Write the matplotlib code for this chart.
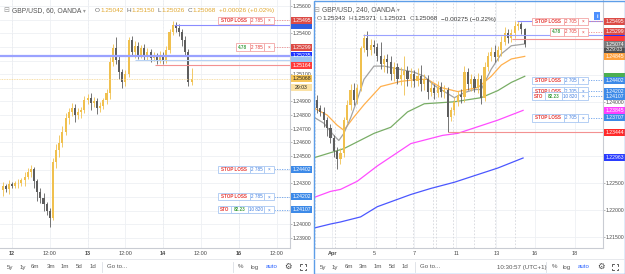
import matplotlib
matplotlib.use("Agg")
import matplotlib.pyplot as plt
import matplotlib.transforms as mtransforms
from matplotlib.patches import Rectangle
from matplotlib.lines import Line2D

plt.rcParams["font.family"] = ["Liberation Sans", "DejaVu Sans"]

W, H = 625, 274
PIP = 0.0001
UP_COL = "#f0c04e"
DN_COL = "#5e5e5e"

# ---------------- left chart: GBP/USD, 60 (hour bars, bar 0 = day "12" 00:00) ----------------
left_first_bar = -4
left_first_open = 1.24233
left_close = [
    1.24248, 1.24277, 1.24255, 1.24292, 1.24284, 1.24299, 1.24299, 1.24321, 1.24350, 1.24380,
    1.24402, 1.24314, 1.24233, 1.24196, 1.24145, 1.24100, 1.24049, 1.24453, 1.24541, 1.24593,
    1.24674, 1.24777, 1.24821, 1.24850, 1.24799, 1.24821, 1.24836, 1.24909, 1.24924, 1.24887,
    1.24902, 1.24850, 1.24865, 1.24909, 1.24960, 1.25188, 1.25291, 1.25203, 1.25115, 1.25041,
    1.25100, 1.25350, 1.25262, 1.25306, 1.25240, 1.25291, 1.25232, 1.25262, 1.25218, 1.25232,
    1.25203, 1.25240, 1.25203, 1.25276, 1.25409, 1.25460, 1.25438, 1.25409, 1.25350, 1.25262,
    1.25042, 1.25068,
]
# wick lengths in pips above / below the body
left_up = [2, 3, 2, 3, 2, 2, 3, 2, 3, 3,
           3, 2, 2, 3, 3, 2, 2, 3, 5, 6,
           5, 4, 3, 4, 3, 3, 2, 3, 3, 4,
           3, 2, 3, 2, 3, 4, 3, 8, 3, 2,
           3, 2, 3, 4, 3, 2, 3, 3, 2, 3,
           2, 3, 2, 3, 2, 3, 2, 3, 2, 3,
           2, 8]
left_dn = [3, 4, 2, 3, 2, 2, 3, 2, 4, 2,
           3, 5, 6, 4, 5, 3, 7, 2, 4, 5,
           3, 2, 4, 3, 5, 3, 4, 2, 3, 5,
           3, 4, 3, 2, 3, 4, 3, 3, 5, 4,
           3, 2, 3, 4, 3, 2, 3, 3, 3, 2,
           3, 2, 3, 2, 2, 2, 3, 3, 4, 3,
           3, 2]
left_ticks = [0, 12, 24, 36, 48, 60, 72, 84]
left_tick_labels = ["12", "12:00", "13", "12:00", "14", "12:00", "16", "12:00"]
left_sessions = [0, 24, 48, 72]
# price-scale labels that are not hidden behind a tag
left_price_labels = [1.239, 1.240, 1.243, 1.245, 1.246, 1.247, 1.248, 1.249, 1.251, 1.254, 1.256]

# ---------------- right chart: GBP/USD, 240 (4h bars, bar 0 = "5") ----------------
right_first_bar = -17
right_first_open = 1.24042
right_close = [
    1.23891, 1.23816, 1.23665, 1.23514, 1.23325, 1.23099, 1.22948, 1.23061, 1.23665, 1.23948,
    1.24231, 1.24042, 1.24268, 1.24994, 1.25184, 1.24957, 1.25061, 1.25023, 1.24853, 1.24702,
    1.24797, 1.24740, 1.24514, 1.24646, 1.24419, 1.24495, 1.24570, 1.24419, 1.24514, 1.24382,
    1.24476, 1.24325, 1.24419, 1.24193, 1.24268, 1.24174, 1.24287, 1.24193, 1.24231, 1.23721,
    1.23853, 1.24004, 1.24136, 1.24099, 1.24551, 1.24325, 1.24419, 1.24268, 1.24419, 1.24080,
    1.24646, 1.24853, 1.24929, 1.24835, 1.24957, 1.25118, 1.25269, 1.25184, 1.25269, 1.25401,
    1.25438, 1.25343, 1.25068,
]
right_up = [8, 6, 10, 5, 8, 6, 7, 9, 6, 8,
            10, 12, 6, 5, 8, 14, 10, 9, 7, 26,
            8, 10, 12, 9, 8, 15, 28, 10, 12, 8,
            15, 20, 10, 8, 12, 6, 10, 8, 9, 5,
            6, 8, 7, 10, 12, 8, 10, 6, 12, 8,
            10, 7, 9, 12, 8, 10, 12, 8, 9, 10,
            6, 5, 3]
right_dn = [10, 8, 12, 15, 8, 12, 19, 10, 8, 6,
            9, 10, 8, 6, 6, 10, 8, 12, 9, 10,
            15, 20, 10, 12, 9, 10, 36, 12, 15, 10,
            8, 12, 10, 14, 9, 12, 8, 10, 12, 28,
            8, 10, 8, 12, 9, 10, 12, 8, 10, 12,
            6, 8, 10, 9, 8, 10, 7, 10, 8, 9,
            7, 8, 5]
right_ticks = [-12.5, 0, 12, 24.5, 36.5, 48, 60]
right_tick_labels = ["Apr", "5", "7", "11", "13", "16", "18"]
right_sessions = [-17.5, -12.5, -11.5, -5.5, 0.5, 6.5, 11.5, 17.5, 18.5, 23.5, 30, 36, 42]
right_price_labels = [1.215, 1.220, 1.225, 1.240]
right_grid = [1.215 + 0.005 * i for i in range(9)]

# moving averages on the 240 chart: (bar, price)
ma_gray_b = [-18, -15, -12, -10.5, -9, -7, -5, -3, 0, 3, 6, 9, 12, 15, 18, 21, 24, 27, 30, 32, 35, 38, 41, 45]
ma_gray_p = [1.23721, 1.23608, 1.23382, 1.23287, 1.23419, 1.23702, 1.24042, 1.24419, 1.24665, 1.24665,
             1.24627, 1.24589, 1.24551, 1.24476, 1.24306, 1.24193, 1.24080, 1.24174, 1.24231, 1.24231,
             1.24608, 1.24891, 1.25042, 1.25074]
ma_orange_b = [-18, -14, -11, -9, -6, -3, 2, 8, 13, 16, 20, 25, 31, 35, 38, 41, 45]
ma_orange_p = [1.23891, 1.23759, 1.23570, 1.23476, 1.23721, 1.23948, 1.24287, 1.24382, 1.24419, 1.24419,
               1.24268, 1.24193, 1.24268, 1.24476, 1.24684, 1.24797, 1.24845]
ma_green_b = [-18, -9, 0, 5, 10, 15, 24, 32, 37, 41, 45]
ma_green_p = [1.22966, 1.23136, 1.23419, 1.23532, 1.23816, 1.23967, 1.24004, 1.24080, 1.24212, 1.24363, 1.24476]
ma_magenta_b = [-18, -13, -10, -5, 1, 11, 20.5, 25, 37, 44.5]
ma_magenta_p = [1.22230, 1.22344, 1.22381, 1.22532, 1.22816, 1.23230, 1.23382, 1.23419, 1.23665, 1.23845]
ma_blue_b = [-18, -13, -10, -4, 1, 11, 17, 24, 37, 44.5]
ma_blue_p = [1.21664, 1.21740, 1.21778, 1.21872, 1.22061, 1.22287, 1.22400, 1.22514, 1.22778, 1.22963]

fig = plt.figure(figsize=(W / 100, H / 100), dpi=100)
fig.patch.set_facecolor("white")
renderer = fig.canvas.get_renderer()


def fpos(x, y):
    return x / W, 1 - y / H


axL = fig.add_axes([0, 1 - 248 / H, 290 / W, 248 / H])
axR = fig.add_axes([314 / W, 1 - 248 / H, 289 / W, 248 / H])
axL.set_xlim(-3.81, 88.25)
axL.set_ylim(1.23826, 1.25644)
axR.set_xlim(-17.91, 68.36)
axR.set_ylim(1.21296, 1.25889)


def style(ax, grid_levels, labelled, ticks, labels, bold, sessions):
    for s in ("top", "left"):
        ax.spines[s].set_visible(False)
    for s in ("right", "bottom"):
        ax.spines[s].set_color("#c9ccd3")
        ax.spines[s].set_linewidth(0.8)
    ax.yaxis.tick_right()
    ax.set_yticks(labelled)
    ax.set_yticklabels([f"{v:.5f}" for v in labelled])
    ax.tick_params(axis="y", length=1.5, width=0.5, color="#9a9a9a", labelsize=3.7,
                   labelcolor="#4a4a4a", pad=0.6)
    for v in grid_levels:
        ax.axhline(v, color="#eef0f4", lw=0.6, zorder=0)
    ax.set_xticks(ticks)
    ax.set_xticklabels(labels)
    ax.tick_params(axis="x", length=0, labelsize=4.0, labelcolor="#4a4a4a", pad=2.5)
    for i, t in enumerate(ax.get_xticklabels()):
        if i in bold:
            t.set_fontweight("bold")
    ax.grid(axis="x", color="#eef0f4", lw=0.6, zorder=0)
    for s in sessions:
        ax.axvline(s, color="#d5d7dc", lw=0.6, ls=(0, (2, 2)), zorder=0.5)


style(axL, [1.239 + 0.001 * i for i in range(18)], left_price_labels,
      left_ticks, left_tick_labels, [0, 2, 4, 6], left_sessions)
style(axR, right_grid, right_price_labels, right_ticks, right_tick_labels, [0], right_sessions)


def draw_candles(ax, first_bar, first_open, closes, up, dn):
    o = first_open
    for i, c in enumerate(closes):
        x = first_bar + i
        col = UP_COL if c >= o else DN_COL
        hi = max(o, c) + up[i] * PIP
        lo = min(o, c) - dn[i] * PIP
        ax.vlines(x, lo, hi, color=col, lw=0.6, zorder=3)
        ax.bar(x, max(abs(c - o), 0.00003), bottom=min(o, c), width=0.65, color=col, lw=0, zorder=3)
        o = c


def blend(ax):
    return mtransforms.blended_transform_factory(ax.transAxes, ax.transData)


def per_px(ax):
    lo, hi = ax.get_ylim()
    return (hi - lo) / ax.bbox.height


def price_tag(ax, price, text, fc, tc="white"):
    pw = ax.bbox.width
    h = 7 * per_px(ax)
    ax.add_patch(Rectangle((1 + 1 / pw, price - h / 2), 21 / pw, h, transform=blend(ax),
                           fc=fc, ec="none", zorder=20, clip_on=False))
    if text:
        ax.text(1 + 11.5 / pw, price, text, transform=blend(ax), ha="center", va="center",
                fontsize=3.7, color=tc, zorder=21)


def order_box(ax, price, cells, edge, dot):
    pw = ax.bbox.width
    h = 7.5 * per_px(ax)
    z = 6
    for text, x0, x1, tc, wt in cells:
        ax.add_patch(Rectangle((x0 / pw, price - h / 2), (x1 - x0) / pw, h, transform=blend(ax),
                               fc="white", ec=edge, lw=0.6, zorder=z, clip_on=False))
        if text == "STO":
            ax.text((x0 + 2) / pw, price, text, transform=blend(ax), ha="left", va="center",
                    fontsize=3.3, color=tc, fontweight=wt, zorder=z + 1)
        else:
            ax.text((x0 + x1) / 2 / pw, price, text, transform=blend(ax), ha="center", va="center",
                    fontsize=3.3, color=tc, fontweight=wt, zorder=z + 1)
        z += 2
    ax.axhline(price, xmin=cells[-1][2] / pw, xmax=1, color=dot, lw=0.6, ls=(0, (1.5, 1.5)), zorder=5)


RED_T, BLUE_T, GREEN_T = "#e53935", "#3d7be0", "#43a047"
RED_E, BLUE_E = "#f3a5a5", "#a9c8f2"


def red_sl(qty):
    return [("STOP LOSS", 218, 250, RED_T, "bold"), (qty, 250, 264, RED_T, "normal"), ("×", 264, 274, RED_T, "normal")]


def red_tp(qty):
    return [("4.78", 236, 250, GREEN_T, "bold"), (qty, 250, 264, RED_T, "normal"), ("×", 264, 274, RED_T, "normal")]


def blue_sl(qty):
    return [("STOP LOSS", 218, 250, RED_T, "bold"), (qty, 250, 264, BLUE_T, "normal"), ("×", 264, 274, BLUE_T, "normal")]


def blue_pos():
    return [("STO", 218, 250, RED_T, "bold"), ("82.23", 231, 248, GREEN_T, "bold"),
            ("10 820", 248, 264, BLUE_T, "normal"), ("×", 264, 274, BLUE_T, "normal")]


# ---------------- left panel ----------------
draw_candles(axL, left_first_bar, left_first_open, left_close, left_up, left_dn)
axL.axhline(1.25235, color="#9aa2ff", lw=1.6, zorder=4)
axL.hlines(1.25460, 51.5, 88.25, color="#8a8cff", lw=0.8, zorder=4)
axL.hlines(1.25206, 39, 88.25, color="#b8d2f4", lw=0.8, zorder=4)
axL.hlines(1.25164, 45.4, 88.25, color="#f39191", lw=0.8, zorder=4)
axL.axhline(1.25068, color="#f5d38a", lw=0.6, ls=(0, (1, 1)), zorder=4)
order_box(axL, 1.25495, red_sl("2 785"), RED_E, "#f08a8a")
order_box(axL, 1.25299, red_tp("2 785"), RED_E, "#f08a8a")
order_box(axL, 1.24402, blue_sl("2 785"), BLUE_E, "#6aa0ea")
order_box(axL, 1.24202, blue_sl("2 785"), BLUE_E, "#6aa0ea")
order_box(axL, 1.24107, blue_pos(), BLUE_E, "#6aa0ea")

price_tag(axL, 1.25460, None, "#2f5fe0")
price_tag(axL, 1.25495, "1.25495", "#dc4b46")
price_tag(axL, 1.25299, "1.25299", "#dc4b46")
price_tag(axL, 1.25235, "1.25235", "#1f35ff")
price_tag(axL, 1.25206, None, "#9cc3f0")
price_tag(axL, 1.25164, "1.25164", "#ff3b3b")
price_tag(axL, 1.25068, "1.25068", "#f6c65b", "#222222")
price_tag(axL, 1.25006, "29:03", "#fbe2a6", "#222222")
price_tag(axL, 1.24402, "1.24402", "#3d8ae8")
price_tag(axL, 1.24202, "1.24202", "#3d8ae8")
price_tag(axL, 1.24107, "1.24107", "#3d8ae8")

# ---------------- right panel ----------------
axR.plot(ma_blue_b, ma_blue_p, color="#4b57ff", lw=0.9, zorder=2)
axR.plot(ma_magenta_b, ma_magenta_p, color="#ff4dff", lw=0.9, zorder=2)
axR.plot(ma_green_b, ma_green_p, color="#79ad66", lw=0.9, zorder=2)
axR.plot(ma_orange_b, ma_orange_p, color="#ffb04d", lw=0.9, zorder=2)
axR.plot(ma_gray_b, ma_gray_p, color="#a3a3a3", lw=0.9, zorder=2)
draw_candles(axR, right_first_bar, right_first_open, right_close, right_up, right_dn)
axR.hlines(1.25495, 42.7, 68.36, color="#8a8cff", lw=0.8, zorder=4)
axR.hlines(1.25235, -3.3, 68.36, color="#9aa2ff", lw=0.8, zorder=4)
axR.hlines(1.25164, 41.2, 68.36, color="#f39191", lw=0.8, zorder=4)
axR.hlines(1.23444, 22, 68.36, color="#f39191", lw=0.8, zorder=4)
order_box(axR, 1.25495, red_sl("2 705"), RED_E, "#f08a8a")
order_box(axR, 1.25299, red_tp("2 705"), RED_E, "#f08a8a")
order_box(axR, 1.24402, blue_sl("2 705"), BLUE_E, "#6aa0ea")
order_box(axR, 1.24202, blue_sl("2 705"), BLUE_E, "#6aa0ea")
order_box(axR, 1.24107, blue_pos(), BLUE_E, "#6aa0ea")
order_box(axR, 1.23707, blue_sl("2 705"), BLUE_E, "#6aa0ea")

price_tag(axR, 1.24470, None, "#4caf50")
price_tag(axR, 1.25495, "1.25495", "#dc4b46")
price_tag(axR, 1.25235, None, "#1f35ff")
price_tag(axR, 1.25299, "1.25299", "#dc4b46")
price_tag(axR, 1.25164, None, "#ff3b3b")
price_tag(axR, 1.24963, "3:29:03", "#4f4f4f")
price_tag(axR, 1.25074, "1.25074", "#7a7a7a")
price_tag(axR, 1.24845, "1.24845", "#ffa13d")
price_tag(axR, 1.24402, "1.24402", "#3d8ae8")
price_tag(axR, 1.24202, "1.24202", "#3d8ae8")
price_tag(axR, 1.24107, "1.24107", "#3d8ae8")
price_tag(axR, 1.23845, "1.23845", "#ff40ff")
price_tag(axR, 1.23707, "1.23707", "#3d8ae8")
price_tag(axR, 1.23444, "1.23444", "#ff2a2a")
price_tag(axR, 1.22963, "1.22963", "#2a3cff")


# ---------------- header texts ----------------
def ftext(x, y, s, **kw):
    kw.setdefault("va", "center")
    kw.setdefault("fontsize", 4.9)
    return fig.text(*fpos(x, y), s, **kw)


def width(t):
    return t.get_window_extent(renderer).width


def ohlc_line(x, y, pieces, change, vcol):
    for letter, value in pieces:
        t = ftext(x, y, letter, color="#6b6b6b", fontsize=4.6)
        x += width(t) + 0.3
        t = ftext(x, y, value, color=vcol, fontsize=4.6)
        x += width(t) + 3
    ftext(x, y, change, color=vcol, fontsize=4.6)


def title(x, y, s):
    ftext(x - 9, y, "⊟", color="#9a9a9a", fontsize=5, family="DejaVu Sans")
    t = ftext(x, y, s, color="#555555")
    ftext(x + width(t) + 2, y, "▾", color="#9a9a9a", fontsize=4, family="DejaVu Sans")


title(12, 10.5, "GBP/USD, 60, OANDA")
ohlc_line(95, 10.5, [("O", "1.25042"), ("H", "1.25150"), ("L", "1.25026"), ("C", "1.25068")],
          "+0.00026 (+0.02%)", "#e0a72e")

title(322, 10, "GBP/USD, 240, OANDA")
ohlc_line(317, 19, [("O", "1.25343"), ("H", "1.25371"), ("L", "1.25021"), ("C", "1.25068")],
          "−0.00275 (−0.22%)", "#3a3a3a")
ftext(597, 16, "i", color="white", fontsize=4, fontweight="bold", ha="center",
      bbox=dict(boxstyle="square,pad=0.35", fc="#4d90fe", ec="none"))

# ---------------- bottom toolbars ----------------
for x0, x1 in [(0, 312), (314, 624)]:
    fig.add_artist(Line2D([x0 / W, x1 / W], [1 - 259 / H] * 2, color="#e3e5ea", lw=0.6))


def toolbar(xs, goto_x, seps, extra):
    for x, s in zip(xs, ["5y", "1y", "6m", "3m", "1m", "5d", "1d"]):
        ftext(x, 267, s, color="#555555", fontsize=4.4, ha="center")
    ftext(goto_x, 267, "Go to...", color="#555555", fontsize=4.4)
    for sx in seps:
        fig.add_artist(Line2D([sx / W] * 2, [1 - 262 / H, 1 - 272 / H], color="#dcdfe5", lw=0.6))
    for x, s, col in extra:
        ftext(x, 267, s, color=col, fontsize=4.4, ha="center")


def gear_and_full(xg, xf):
    ftext(xg, 266.5, "⚙", color="#444444", fontsize=6, ha="center", family="DejaVu Sans")
    d = 2.8
    for sx, sy in [(-1, -1), (1, -1), (-1, 1), (1, 1)]:
        cx, cy = xf + sx * d, 267 + sy * d
        fig.add_artist(Line2D([cx / W, cx / W, (cx - sx * 1.3) / W],
                              [1 - (cy - sy * 1.3) / H, 1 - cy / H, 1 - cy / H], color="#444444", lw=0.6))


toolbar([10, 23, 35, 51, 65, 79, 93], 107, [102, 233],
        [(241, "%", "#555555"), (255, "log", "#555555"), (272, "auto", "#2962ff")])
gear_and_full(288, 303)
toolbar([323, 335, 349, 363, 378, 392, 405], 420, [415, 546],
        [(554, "%", "#555555"), (567, "log", "#555555"), (584, "auto", "#2962ff")])
ftext(497, 267, "10:30:57 (UTC+1)", color="#555555", fontsize=4.4)
gear_and_full(601, 615)

# selected-pane border
fig.add_artist(Rectangle((313.5 / W, 0.5 / H), 311 / W, 273 / H, transform=fig.transFigure,
                         fill=False, ec="#5d9ee8", lw=1.0))

fig.savefig("out.png", dpi=100)
